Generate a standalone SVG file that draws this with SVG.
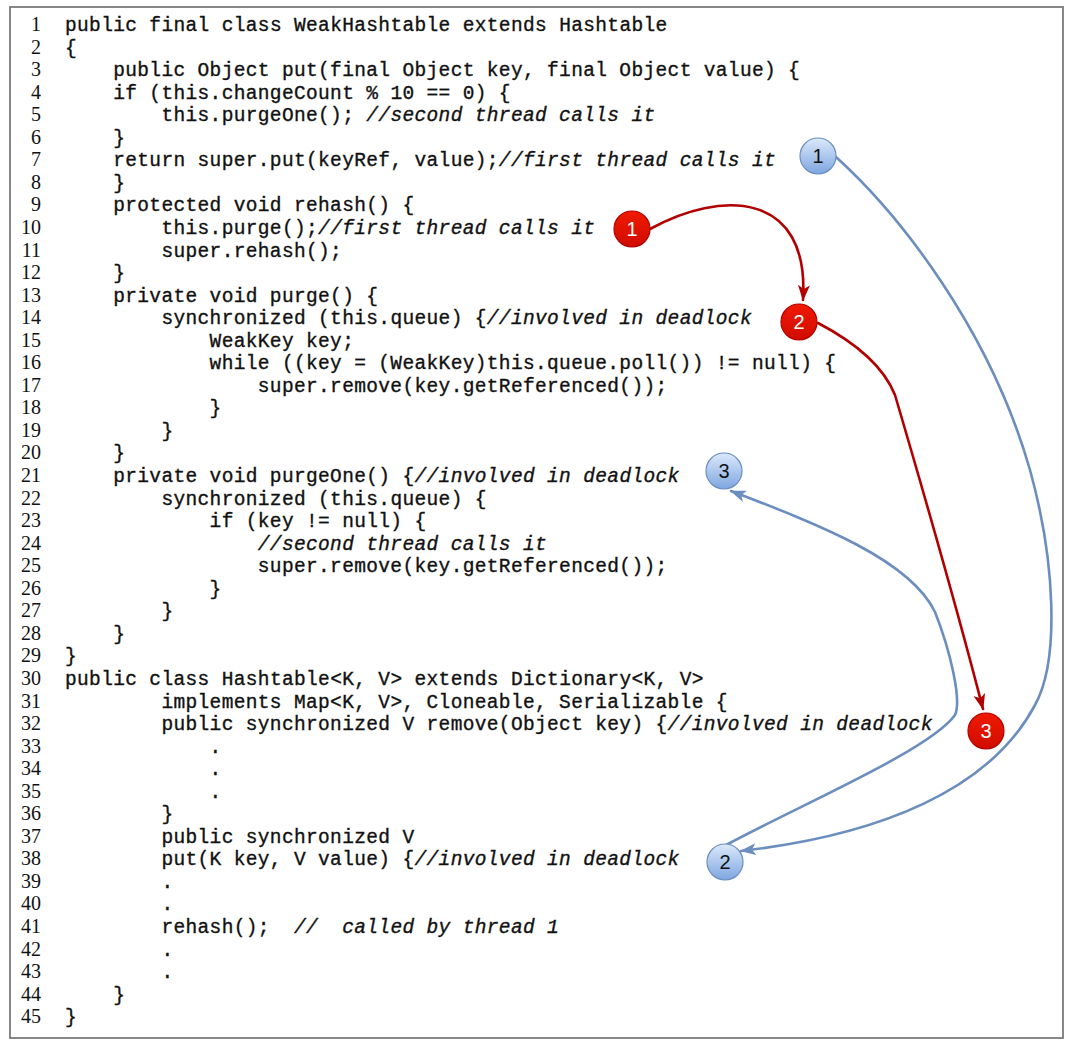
<svg xmlns="http://www.w3.org/2000/svg" width="1066" height="1042" viewBox="0 0 1066 1042">
  <style>
    .ln { font-family: "Liberation Serif", "DejaVu Serif", serif; font-size: 20px; fill: #111; text-anchor: end; }
    .code { font-family: "Liberation Mono", "DejaVu Sans Mono", monospace; font-size: 19.5px; letter-spacing: 0.35px; fill: #111; stroke: #111; stroke-width: 0.35px; }
    .cm { font-style: italic; }
    .badge-num { font-family: "Liberation Sans", Arial, sans-serif; font-size: 20px; text-anchor: middle; dominant-baseline: central; }
    .blue .badge-num { fill: #111; }
    .red .badge-num { fill: #fff; }
    .blue circle { fill: url(#gBlue); stroke: #6c8ebf; stroke-width: 1.2; }
    .red circle { fill: url(#gRed); stroke: #b20000; stroke-width: 1.2; }
    .wire { fill: none; stroke-width: 2.6; stroke-linecap: round; stroke-linejoin: round; }
    .wire-blue { stroke: #6c8ebf; marker-end: url(#headBlue); }
    .wire-red { stroke: #b20000; marker-end: url(#headRed); }
  </style>
  <defs>
    <linearGradient id="gBlue" x1="0" y1="0" x2="0" y2="1">
      <stop offset="0" stop-color="#dce9fb"/>
      <stop offset="1" stop-color="#7ea6e0"/>
    </linearGradient>
    <linearGradient id="gRed" x1="0" y1="0" x2="0" y2="1">
      <stop offset="0" stop-color="#f01a00"/>
      <stop offset="1" stop-color="#d00c00"/>
    </linearGradient>
    <marker id="headBlue" viewBox="0 0 16 12" refX="15" refY="6" markerWidth="16" markerHeight="12" markerUnits="userSpaceOnUse" orient="auto">
      <path d="M0,0 L16,6 L0,12 L4,6 Z" fill="#6c8ebf"/>
    </marker>
    <marker id="headRed" viewBox="0 0 16 12" refX="15" refY="6" markerWidth="16" markerHeight="12" markerUnits="userSpaceOnUse" orient="auto">
      <path d="M0,0 L16,6 L0,12 L4,6 Z" fill="#b20000"/>
    </marker>
  </defs>

  <rect x="0" y="0" width="1066" height="1042" fill="#fff"/>
  <!-- listing frame -->
  <rect x="10" y="7" width="1053" height="1031" fill="none" stroke="#7a7a7a" stroke-width="1.8"/>

  <!-- line numbers -->
  <g id="line-numbers" class="ln">
    <text x="41" y="31">1</text>
    <text x="41" y="53.55">2</text>
    <text x="41" y="76.1">3</text>
    <text x="41" y="98.65">4</text>
    <text x="41" y="121.2">5</text>
    <text x="41" y="143.75">6</text>
    <text x="41" y="166.3">7</text>
    <text x="41" y="188.85">8</text>
    <text x="41" y="211.4">9</text>
    <text x="41" y="233.95">10</text>
    <text x="41" y="256.5">11</text>
    <text x="41" y="279.05">12</text>
    <text x="41" y="301.6">13</text>
    <text x="41" y="324.15">14</text>
    <text x="41" y="346.7">15</text>
    <text x="41" y="369.25">16</text>
    <text x="41" y="391.8">17</text>
    <text x="41" y="414.35">18</text>
    <text x="41" y="436.9">19</text>
    <text x="41" y="459.45">20</text>
    <text x="41" y="482">21</text>
    <text x="41" y="504.55">22</text>
    <text x="41" y="527.1">23</text>
    <text x="41" y="549.65">24</text>
    <text x="41" y="572.2">25</text>
    <text x="41" y="594.75">26</text>
    <text x="41" y="617.3">27</text>
    <text x="41" y="639.85">28</text>
    <text x="41" y="662.4">29</text>
    <text x="41" y="684.95">30</text>
    <text x="41" y="707.5">31</text>
    <text x="41" y="730.05">32</text>
    <text x="41" y="752.6">33</text>
    <text x="41" y="775.15">34</text>
    <text x="41" y="797.7">35</text>
    <text x="41" y="820.25">36</text>
    <text x="41" y="842.8">37</text>
    <text x="41" y="865.35">38</text>
    <text x="41" y="887.9">39</text>
    <text x="41" y="910.45">40</text>
    <text x="41" y="933">41</text>
    <text x="41" y="955.55">42</text>
    <text x="41" y="978.1">43</text>
    <text x="41" y="1000.65">44</text>
    <text x="41" y="1023.2">45</text>
  </g>

  <!-- code listing; x = 65 + indent * 12.05 -->
  <g id="code" class="code">
    <text x="65" y="31">public final class WeakHashtable extends Hashtable</text>
    <text x="65" y="53.55">{</text>
    <text x="113.2" y="76.1">public Object put(final Object key, final Object value) {</text>
    <text x="113.2" y="98.65">if (this.changeCount % 10 == 0) {</text>
    <text x="161.4" y="121.2">this.purgeOne(); <tspan class="cm">//second thread calls it</tspan></text>
    <text x="113.2" y="143.75">}</text>
    <text x="113.2" y="166.3">return super.put(keyRef, value);<tspan class="cm">//first thread calls it</tspan></text>
    <text x="113.2" y="188.85">}</text>
    <text x="113.2" y="211.4">protected void rehash() {</text>
    <text x="161.4" y="233.95">this.purge();<tspan class="cm">//first thread calls it</tspan></text>
    <text x="161.4" y="256.5">super.rehash();</text>
    <text x="113.2" y="279.05">}</text>
    <text x="113.2" y="301.6">private void purge() {</text>
    <text x="161.4" y="324.15">synchronized (this.queue) {<tspan class="cm">//involved in deadlock</tspan></text>
    <text x="209.6" y="346.7">WeakKey key;</text>
    <text x="209.6" y="369.25">while ((key = (WeakKey)this.queue.poll()) != null) {</text>
    <text x="257.8" y="391.8">super.remove(key.getReferenced());</text>
    <text x="209.6" y="414.35">}</text>
    <text x="161.4" y="436.9">}</text>
    <text x="113.2" y="459.45">}</text>
    <text x="113.2" y="482">private void purgeOne() {<tspan class="cm">//involved in deadlock</tspan></text>
    <text x="161.4" y="504.55">synchronized (this.queue) {</text>
    <text x="209.6" y="527.1">if (key != null) {</text>
    <text x="257.8" y="549.65" class="cm">//second thread calls it</text>
    <text x="257.8" y="572.2">super.remove(key.getReferenced());</text>
    <text x="209.6" y="594.75">}</text>
    <text x="161.4" y="617.3">}</text>
    <text x="113.2" y="639.85">}</text>
    <text x="65" y="662.4">}</text>
    <text x="65" y="684.95">public class Hashtable&lt;K, V&gt; extends Dictionary&lt;K, V&gt;</text>
    <text x="161.4" y="707.5">implements Map&lt;K, V&gt;, Cloneable, Serializable {</text>
    <text x="161.4" y="730.05">public synchronized V remove(Object key) {<tspan class="cm">//involved in deadlock</tspan></text>
    <text x="209.6" y="752.6">.</text>
    <text x="209.6" y="775.15">.</text>
    <text x="209.6" y="797.7">.</text>
    <text x="161.4" y="820.25">}</text>
    <text x="161.4" y="842.8">public synchronized V</text>
    <text x="161.4" y="865.35">put(K key, V value) {<tspan class="cm">//involved in deadlock</tspan></text>
    <text x="161.4" y="887.9">.</text>
    <text x="161.4" y="910.45">.</text>
    <text x="161.4" y="933">rehash();&#160;&#160;<tspan class="cm">//&#160;&#160;called by thread 1</tspan></text>
    <text x="161.4" y="955.55">.</text>
    <text x="161.4" y="978.1">.</text>
    <text x="113.2" y="1000.65">}</text>
    <text x="65" y="1023.2">}</text>
  </g>

  <!-- call-path connectors -->
  <g id="connectors">
    <path id="t1-step1-2" class="wire wire-red" d="M650,229 C720,190 810,190 803,300"/>
    <path id="t1-step2-3" class="wire wire-red" d="M818,323 C860,345 885,370 895,395 C920,480 960,620 983,709"/>
    <path id="t2-step1-2" class="wire wire-blue" d="M836,157 C900,215 990,330 1030,470 C1055,560 1060,660 1035,705 C990,790 880,835 741,851"/>
    <path id="t2-step2-3" class="wire wire-blue" d="M726,845 C800,805 930,750 955,715 C962,700 950,650 935,612 C910,560 820,525 731,491"/>
  </g>

  <!-- thread 1 markers -->
  <g id="t1-1" class="red"><circle cx="632" cy="229" r="18"/><text class="badge-num" x="632" y="229">1</text></g>
  <g id="t1-2" class="red"><circle cx="799" cy="322" r="18"/><text class="badge-num" x="799" y="322">2</text></g>
  <g id="t1-3" class="red"><circle cx="986" cy="731" r="18"/><text class="badge-num" x="986" y="731">3</text></g>

  <!-- thread 2 markers -->
  <g id="t2-1" class="blue"><circle cx="818" cy="156" r="18"/><text class="badge-num" x="818" y="156">1</text></g>
  <g id="t2-2" class="blue"><circle cx="725" cy="862" r="18"/><text class="badge-num" x="725" y="862">2</text></g>
  <g id="t2-3" class="blue"><circle cx="724" cy="471" r="18"/><text class="badge-num" x="724" y="471">3</text></g>
</svg>
